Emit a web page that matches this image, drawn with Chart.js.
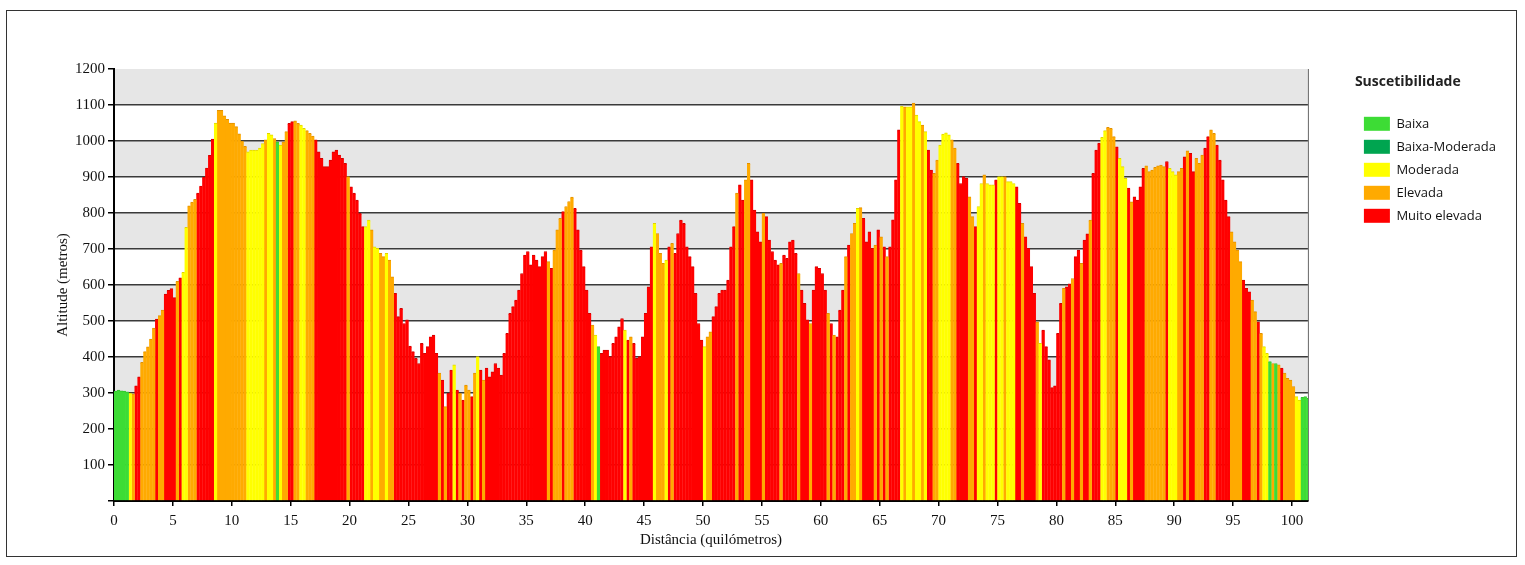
<!DOCTYPE html>
<html lang="pt">
<head>
<meta charset="utf-8">
<title>Perfil de suscetibilidade</title>
<script src="https://cdn.jsdelivr.net/npm/chart.js@4.4.1/dist/chart.umd.min.js"></script>
<style>
  html, body { margin: 0; padding: 0; background: #fff; }
  #moldura { position: absolute; left: 6px; top: 10px; width: 1509px; height: 545px; border: 1.5px solid #333; }
  #grafico { position: absolute; left: 0; top: 0; }
</style>
</head>
<body>
<div id="moldura"></div>
<canvas id="grafico" width="1525" height="565"></canvas>
<script>
// altitude (m) por troço de 0.25 km, uma linha por cada 5 km
const altitudes = [
  305,308,306,305,303,300,298,320,345,385,415,428,450,480,505,515,530,575,585,590,
  565,610,620,635,760,820,830,838,855,875,900,925,960,1005,1050,1085,1085,1070,1060,1050,
  1050,1040,1020,1000,985,970,975,975,975,980,993,1003,1021,1017,1007,998,989,998,1026,1049,
  1054,1056,1049,1044,1035,1029,1021,1014,1003,970,952,929,929,947,970,975,961,952,938,901,
  873,855,836,799,762,762,780,753,706,702,688,679,688,669,623,577,512,535,493,503,
  430,415,396,382,438,410,429,456,461,410,355,336,262,299,364,378,308,299,280,322,
  308,290,355,401,364,336,369,345,359,382,369,350,410,466,521,540,558,586,632,683,
  693,656,683,669,651,679,693,665,646,697,753,785,804,818,832,844,813,753,697,651,
  586,521,489,461,429,410,419,419,401,438,456,484,507,475,447,456,438,396,401,456,
  521,595,706,771,743,688,660,669,706,716,688,743,780,771,706,679,651,577,493,447,
  429,456,470,512,540,577,586,586,614,706,762,855,878,836,892,938,892,808,748,720,
  799,790,725,693,669,656,660,683,674,720,725,688,632,586,549,503,493,586,651,646,
  632,586,521,493,461,456,530,586,679,711,743,771,813,815,785,720,748,702,711,753,
  734,706,679,706,781,892,1031,1097,1095,1095,1095,1105,1072,1054,1044,1026,975,919,910,947,
  989,1019,1023,1017,1003,980,938,882,901,896,845,790,762,818,882,906,882,878,878,892,
  901,901,901,887,887,882,873,827,771,734,702,651,577,498,438,475,429,392,315,320,
  466,549,591,595,603,618,679,697,660,725,742,780,910,975,994,1010,1029,1038,1035,1012,
  984,952,929,896,869,831,845,836,873,924,931,915,919,927,931,933,929,943,924,915,
  906,915,924,956,973,966,915,952,938,961,980,1012,1031,1021,989,947,892,836,790,748,
  720,697,665,614,591,581,558,526,498,466,429,410,387,382,382,378,369,355,341,336,
  318,290,280,288,290,285
];

// classe de suscetibilidade de cada troço (G baixa, D baixa-moderada, Y moderada, O elevada, R muito elevada)
const classes = [
  "GGGGGYORROOOOOROORRR",
  "RORYYOOORRRRRRYOOOOO",
  "OOOOOYYYYYYOYYOGYOOR",
  "ROOYYOOORRRRRRRRRRRO",
  "RRRRRYYOYYOOYOORRRRR",
  "RRRRRRRRRRORORRYRORO",
  "OROYRORRRRRRRRRRRRRR",
  "RRRRRRROROOOROOORRRR",
  "RROYGRRRRRRRRYRORRRR",
  "RRRYOOOYRORRRRRRRRRR",
  "YOORRRRRRRRORROORRRR",
  "ORRRRRORRRRRORRRORRR",
  "RRORORRROROOYORRRROR",
  "ORORRRRYOYYOYYOYRROO",
  "YYYYOORRRROORYYOYYYR",
  "YYOYYYRRORRRROYRRRRR",
  "RRORRORRORRORRRYYOOO",
  "RYYYRORRRROOOOOOORYY",
  "YOORORROOORROORRRRRO",
  "OOORRROOROYYGOGOROOO",
  "OYYGGG"
].join('').split('');

const passo = 0.25;          // km por troço
const distMax = 101.35;      // km
const categorias = ['Baixa', 'Baixa-Moderada', 'Moderada', 'Elevada', 'Muito elevada'];
const codigos = ['G', 'D', 'Y', 'O', 'R'];
const cores = ['#3ddc35', '#00a550', '#ffff00', '#ffaa00', '#ff0000'];
const contornos = ['#35c030', '#008a45', '#e0d400', '#e09000', '#d00000'];

const datasets = categorias.map((nome, c) => ({
  label: nome,
  data: altitudes
    .map((a, i) => classes[i] === codigos[c] ? { x: i * passo + passo / 2, y: a } : null)
    .filter(p => p !== null),
  backgroundColor: cores[c],
  borderColor: contornos[c],
  borderWidth: { top: 1, left: 0, right: 0, bottom: 0 },
  borderSkipped: 'start',
  barThickness: 3.3,
  grouped: false
}));

// faixas cinzentas alternadas no fundo + linha do lado direito
const fundo = {
  id: 'fundo',
  beforeDraw(chart) {
    const { ctx, chartArea: a, scales: { y } } = chart;
    ctx.save();
    ctx.fillStyle = '#e6e6e6';
    for (let v = 100; v < 1200; v += 200) {
      const t = y.getPixelForValue(v + 100), b = y.getPixelForValue(v);
      ctx.fillRect(a.left, t, a.right - a.left, b - t);
    }
    ctx.strokeStyle = '#666';
    ctx.lineWidth = 1;
    ctx.beginPath();
    ctx.moveTo(a.right + 0.5, a.top);
    ctx.lineTo(a.right + 0.5, a.bottom);
    ctx.stroke();
    ctx.restore();
  }
};

const serif = { family: '"Liberation Serif", "Times New Roman", serif', size: 15 };
const sans = '"Open Sans", "Noto Sans", sans-serif';

new Chart(document.getElementById('grafico'), {
  type: 'bar',
  data: { datasets },
  options: {
    responsive: false,
    animation: false,
    layout: { padding: { left: 50, top: 69, right: 19, bottom: 14 } },
    scales: {
      x: {
        type: 'linear',
        min: 0,
        max: distMax,
        offset: false,
        afterFit: s => { s.height = 50; },
        ticks: { stepSize: 5, includeBounds: false, color: '#111', font: serif, padding: 6, maxRotation: 0 },
        grid: { drawOnChartArea: false, offset: false, tickLength: 5, tickColor: '#000', lineWidth: 1.5 },
        border: { display: true, color: '#000', width: 2 },
        title: { display: true, text: 'Distância (quilómetros)', color: '#111', font: serif, padding: { top: 0, bottom: 2 } }
      },
      y: {
        min: 0,
        max: 1200,
        afterFit: s => { s.width = 64; },
        ticks: { stepSize: 100, color: '#111', font: serif, padding: 3, callback: v => v === 0 ? '' : v },
        grid: {
          color: c => (c.tick && (c.tick.value === 1200 || c.tick.value === 0)) ? 'rgba(0,0,0,0)' : '#3a3a3a',
          tickColor: '#000',
          lineWidth: 1.5,
          tickLength: 6
        },
        border: { display: true, color: '#000', width: 2 },
        title: { display: true, text: 'Altitude (metros)', color: '#111', font: serif, padding: { top: 4, bottom: 4 } }
      },
      // eixo vazio: só reserva o espaço entre o gráfico e a legenda
      espaco: {
        type: 'linear',
        position: 'right',
        display: true,
        afterFit: s => { s.width = 47; },
        ticks: { display: false },
        grid: { display: false },
        border: { display: false }
      }
    },
    plugins: {
      tooltip: { enabled: false },
      legend: {
        position: 'right',
        align: 'start',
        title: {
          display: true,
          text: 'Suscetibilidade',
          color: '#222',
          position: 'start',
          font: { family: sans, size: 14, weight: 'bold' },
          padding: { top: 6, bottom: 16 }
        },
        labels: {
          boxWidth: 26,
          boxHeight: 14,
          padding: 9,
          color: '#111',
          font: { family: sans, size: 13 },
          generateLabels: chart => Chart.defaults.plugins.legend.labels.generateLabels(chart)
            .map(l => Object.assign(l, { lineWidth: 0, strokeStyle: l.fillStyle }))
        }
      }
    }
  },
  plugins: [fundo]
});
</script>
</body>
</html>
